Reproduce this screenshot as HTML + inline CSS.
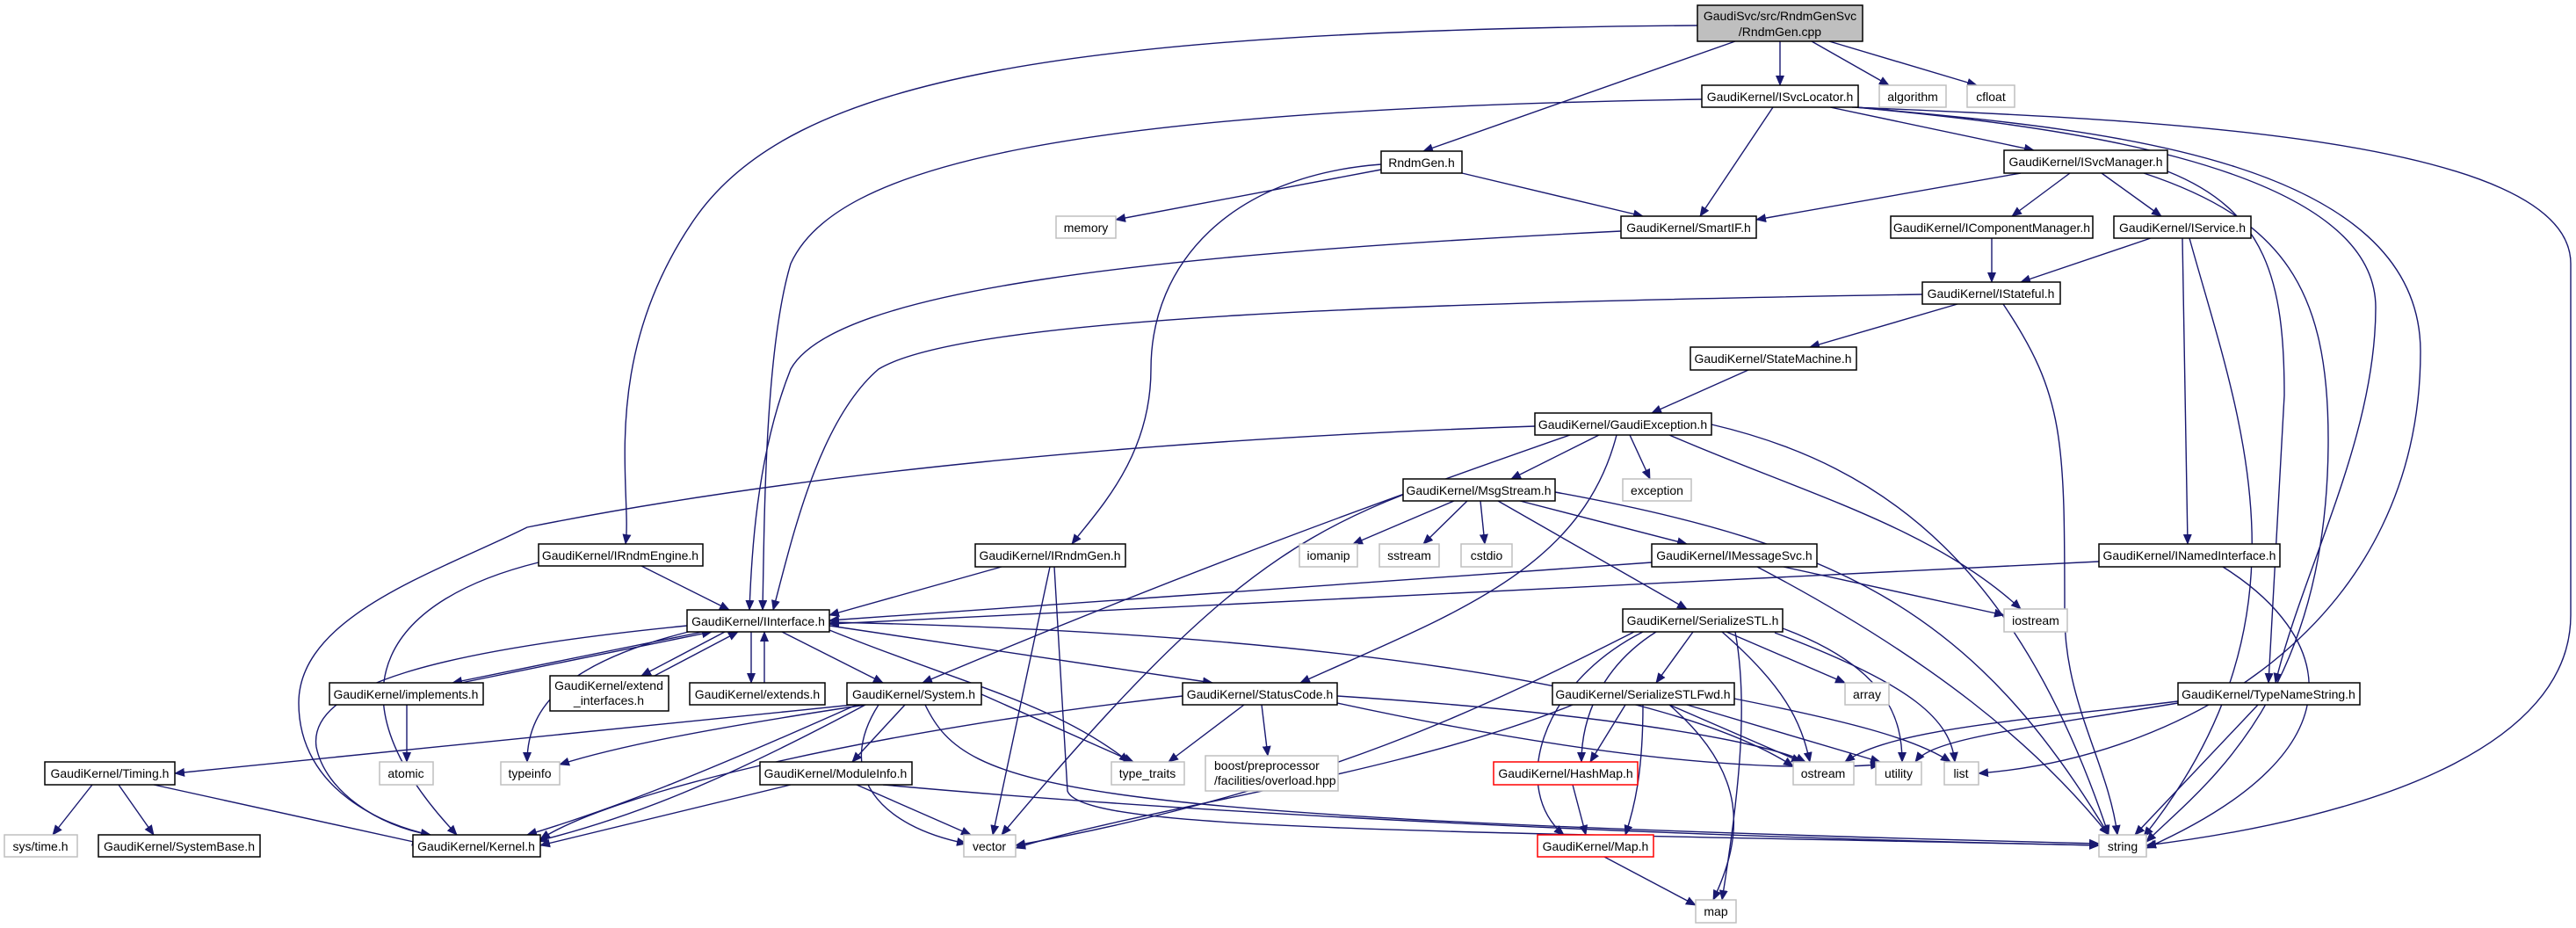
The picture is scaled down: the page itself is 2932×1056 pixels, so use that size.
<!DOCTYPE html>
<html><head><meta charset="utf-8"><style>
html,body{margin:0;padding:0;background:#fff;}
svg{display:block;}
text{font-family:"Liberation Sans",Arial,sans-serif;font-size:14px;fill:#000;}
.e{fill:none;stroke:#191970;stroke-width:1.4;marker-end:url(#a);}
.n{fill:#fff;stroke:#000;stroke-width:1.5;}
.g{fill:#fff;stroke:#bfbfbf;stroke-width:1.5;}
.r{fill:#fff;stroke:#ff0000;stroke-width:1.5;}
</style></head><body>
<svg width="2932" height="1056" viewBox="0 0 2932 1056" xmlns="http://www.w3.org/2000/svg">
<defs><marker id="a" markerWidth="12" markerHeight="10" refX="11" refY="5" orient="auto" markerUnits="userSpaceOnUse"><path d="M0,0 L12,5 L0,10 z" fill="#191970"/></marker></defs>
<g>
<path class="e" d="M2026 47 L2026 97"/>
<path class="e" d="M2062 47 L2150 97"/>
<path class="e" d="M2082 47 L2250 97"/>
<path class="e" d="M1975 47 L1620 172"/>
<path class="e" d="M1932 29 C1200 35, 900 90, 790 250 S720 560, 712 619"/>
<path class="e" d="M1937 113 C1200 125, 950 190, 900 300 C870 400, 870 600, 868 694"/>
<path class="e" d="M1845 263 C1300 290, 950 330, 900 420 C860 520, 855 640, 853 694"/>
<path class="e" d="M2188 335 C1600 345, 1100 360, 1000 420 C930 480, 900 620, 880 694"/>
<path class="e" d="M1572 193 L1270 250"/>
<path class="e" d="M1664 197 L1870 246"/>
<path class="e" d="M1572 187 C1400 200, 1310 300, 1310 420 C1310 520, 1250 580, 1220 619"/>
<path class="e" d="M2018 122 L1935 246"/>
<path class="e" d="M2083 122 L2315 171"/>
<path class="e" d="M2112 122 C2300 140, 2704 180, 2704 350 C2704 500, 2620 650, 2590 777"/>
<path class="e" d="M2114 122 C2350 145, 2755 170, 2755 400 C2755 700, 2500 860, 2252 880"/>
<path class="e" d="M2108 122 C2400 135, 2926 150, 2926 300 L2926 700 C2926 850, 2700 930, 2443 962"/>
<path class="e" d="M2300 197 L1999 250"/>
<path class="e" d="M2356 197 L2290 246"/>
<path class="e" d="M2392 197 L2460 246"/>
<path class="e" d="M2467 195 C2580 240, 2600 320, 2600 450 L2582 777"/>
<path class="e" d="M2440 197 C2600 250, 2650 330, 2650 500 C2650 800, 2500 900, 2443 958"/>
<path class="e" d="M2267 271 L2267 321"/>
<path class="e" d="M2448 271 L2300 321"/>
<path class="e" d="M2484 271 L2490 619"/>
<path class="e" d="M2492 271 C2550 480, 2640 700, 2440 952"/>
<path class="e" d="M2228 346 L2060 395"/>
<path class="e" d="M2280 346 C2350 450, 2350 500, 2350 700 C2350 800, 2400 870, 2410 950"/>
<path class="e" d="M1990 421 L1880 470"/>
<path class="e" d="M1820 495 L1720 545"/>
<path class="e" d="M1855 495 L1878 545"/>
<path class="e" d="M1747 485 C1300 500, 900 540, 600 600 C500 650, 340 700, 340 800 C340 900, 440 940, 490 950"/>
<path class="e" d="M1787 495 C1600 560, 1350 650, 1050 777"/>
<path class="e" d="M1840 495 C1800 650, 1650 700, 1480 777"/>
<path class="e" d="M1900 495 C2050 560, 2200 600, 2300 693"/>
<path class="e" d="M1948 483 C2150 530, 2300 650, 2400 950"/>
<path class="e" d="M1655 570 L1540 619"/>
<path class="e" d="M1670 570 L1620 619"/>
<path class="e" d="M1685 570 L1690 619"/>
<path class="e" d="M1730 570 L1920 619"/>
<path class="e" d="M1705 570 L1920 693"/>
<path class="e" d="M1597 563 C1450 620, 1350 700, 1140 950"/>
<path class="e" d="M1770 560 C2100 620, 2250 700, 2400 950"/>
<path class="e" d="M730 644 L830 694"/>
<path class="e" d="M613 640 C450 680, 360 780, 520 950"/>
<path class="e" d="M1140 645 L944 700"/>
<path class="e" d="M1195 645 L1130 950"/>
<path class="e" d="M1200 645 L1215 900 C1230 945, 1600 945, 2389 962"/>
<path class="e" d="M1880 640 L944 706"/>
<path class="e" d="M2030 645 L2281 700"/>
<path class="e" d="M2000 645 C2200 750, 2320 850, 2400 950"/>
<path class="e" d="M2389 639 L944 710"/>
<path class="e" d="M2530 645 C2650 720, 2700 850, 2443 965"/>
<path class="e" d="M800 719 L515 777"/>
<path class="e" d="M525 777 L810 719"/>
<path class="e" d="M825 719 L730 769"/>
<path class="e" d="M745 769 L840 719"/>
<path class="e" d="M855 719 L855 777"/>
<path class="e" d="M870 777 L870 719"/>
<path class="e" d="M890 719 L1005 777"/>
<path class="e" d="M944 712 L1380 777"/>
<path class="e" d="M800 715 C650 750, 600 800, 600 867"/>
<path class="e" d="M944 717 C1100 780, 1200 800, 1285 867"/>
<path class="e" d="M944 708 C1500 720, 1900 780, 2041 872"/>
<path class="e" d="M782 712 C500 740, 350 780, 360 850 C370 900, 430 940, 490 950"/>
<path class="e" d="M463 802 L463 867"/>
<path class="e" d="M990 800 C700 830, 400 860, 199 880"/>
<path class="e" d="M985 802 C800 830, 700 850, 637 870"/>
<path class="e" d="M975 802 C800 880, 700 920, 600 950"/>
<path class="e" d="M985 802 C820 890, 720 930, 612 957"/>
<path class="e" d="M1030 802 L970 867"/>
<path class="e" d="M1000 802 C950 880, 1000 940, 1100 960"/>
<path class="e" d="M1053 802 C1100 900, 1200 930, 2389 960"/>
<path class="e" d="M1117 790 L1290 867"/>
<path class="e" d="M1416 802 L1330 867"/>
<path class="e" d="M1436 802 L1443 860"/>
<path class="e" d="M1346 792 C1000 830, 700 900, 615 955"/>
<path class="e" d="M1522 792 C1800 810, 2000 840, 2055 867"/>
<path class="e" d="M1522 800 C1800 860, 2000 880, 2140 870"/>
<path class="e" d="M900 893 L615 962"/>
<path class="e" d="M975 893 L1105 950"/>
<path class="e" d="M1005 893 C1300 920, 1800 950, 2389 962"/>
<path class="e" d="M105 893 L60 950"/>
<path class="e" d="M135 893 L175 950"/>
<path class="e" d="M175 893 L480 960"/>
<path class="e" d="M1927 719 L1885 777"/>
<path class="e" d="M1885 719 C1820 760, 1800 820, 1800 867"/>
<path class="e" d="M1870 719 C1750 780, 1720 900, 1780 950"/>
<path class="e" d="M1860 719 C1700 800, 1500 900, 1156 962"/>
<path class="e" d="M1965 719 L2100 777"/>
<path class="e" d="M1960 719 C2030 780, 2050 820, 2060 867"/>
<path class="e" d="M2029 715 C2150 760, 2165 820, 2165 867"/>
<path class="e" d="M2020 720 C2180 780, 2220 820, 2225 867"/>
<path class="e" d="M1975 719 C1990 800, 1980 900, 1960 1024"/>
<path class="e" d="M1850 802 L1810 867"/>
<path class="e" d="M1870 802 C1870 880, 1860 920, 1850 950"/>
<path class="e" d="M1790 802 C1600 880, 1300 920, 1156 965"/>
<path class="e" d="M1900 802 L2050 867"/>
<path class="e" d="M1920 802 L2140 867"/>
<path class="e" d="M1974 795 C2100 820, 2180 840, 2220 867"/>
<path class="e" d="M1900 802 C1990 880, 1985 950, 1950 1024"/>
<path class="e" d="M1790 893 L1805 950"/>
<path class="e" d="M1826 975 L1930 1030"/>
<path class="e" d="M2479 798 C2300 820, 2150 830, 2100 867"/>
<path class="e" d="M2479 800 C2300 830, 2200 840, 2180 867"/>
<path class="e" d="M2570 802 L2430 950"/>
</g>
<g>
<rect x="1932" y="6" width="188" height="41" fill="#bfbfbf" stroke="#000" stroke-width="1.5"/>
<text x="2026" y="23" text-anchor="middle">GaudiSvc/src/RndmGenSvc</text>
<text x="2026" y="41" text-anchor="middle">/RndmGen.cpp</text>

<rect class="n" x="1937" y="97" width="178" height="25"/><text x="2026" y="115" text-anchor="middle">GaudiKernel/ISvcLocator.h</text>
<rect class="g" x="2139" y="97" width="76" height="25"/><text x="2177" y="115" text-anchor="middle">algorithm</text>
<rect class="g" x="2239" y="97" width="54" height="25"/><text x="2266" y="115" text-anchor="middle">cfloat</text>
<rect class="n" x="1572" y="172" width="92" height="25"/><text x="1618" y="190" text-anchor="middle">RndmGen.h</text>
<rect class="g" x="1202" y="246" width="68" height="25"/><text x="1236" y="264" text-anchor="middle">memory</text>
<rect class="n" x="2281" y="171" width="186" height="26"/><text x="2374" y="189" text-anchor="middle">GaudiKernel/ISvcManager.h</text>
<rect class="n" x="1845" y="246" width="154" height="25"/><text x="1922" y="264" text-anchor="middle">GaudiKernel/SmartIF.h</text>
<rect class="n" x="2152" y="246" width="230" height="25"/><text x="2267" y="264" text-anchor="middle">GaudiKernel/IComponentManager.h</text>
<rect class="n" x="2406" y="246" width="156" height="25"/><text x="2484" y="264" text-anchor="middle">GaudiKernel/IService.h</text>
<rect class="n" x="2188" y="321" width="157" height="25"/><text x="2266" y="339" text-anchor="middle">GaudiKernel/IStateful.h</text>
<rect class="n" x="1924" y="395" width="189" height="26"/><text x="2018" y="413" text-anchor="middle">GaudiKernel/StateMachine.h</text>
<rect class="n" x="1747" y="470" width="201" height="25"/><text x="1847" y="488" text-anchor="middle">GaudiKernel/GaudiException.h</text>
<rect class="n" x="1597" y="545" width="173" height="25"/><text x="1683" y="563" text-anchor="middle">GaudiKernel/MsgStream.h</text>
<rect class="g" x="1847" y="545" width="78" height="25"/><text x="1886" y="563" text-anchor="middle">exception</text>
<rect class="n" x="613" y="619" width="187" height="25"/><text x="706" y="637" text-anchor="middle">GaudiKernel/IRndmEngine.h</text>
<rect class="n" x="1110" y="619" width="171" height="26"/><text x="1195" y="637" text-anchor="middle">GaudiKernel/IRndmGen.h</text>
<rect class="g" x="1479" y="619" width="66" height="26"/><text x="1512" y="637" text-anchor="middle">iomanip</text>
<rect class="g" x="1570" y="619" width="68" height="26"/><text x="1604" y="637" text-anchor="middle">sstream</text>
<rect class="g" x="1663" y="619" width="58" height="26"/><text x="1692" y="637" text-anchor="middle">cstdio</text>
<rect class="n" x="1880" y="619" width="188" height="26"/><text x="1974" y="637" text-anchor="middle">GaudiKernel/IMessageSvc.h</text>
<rect class="n" x="2389" y="619" width="206" height="26"/><text x="2492" y="637" text-anchor="middle">GaudiKernel/INamedInterface.h</text>
<rect class="g" x="2281" y="693" width="72" height="26"/><text x="2317" y="711" text-anchor="middle">iostream</text>
<rect class="n" x="782" y="694" width="162" height="25"/><text x="863" y="712" text-anchor="middle">GaudiKernel/IInterface.h</text>
<rect class="n" x="1847" y="693" width="182" height="26"/><text x="1938" y="711" text-anchor="middle">GaudiKernel/SerializeSTL.h</text>
<rect class="n" x="375" y="777" width="175" height="25"/><text x="462" y="795" text-anchor="middle">GaudiKernel/implements.h</text>
<rect class="n" x="626" y="769" width="135" height="40"/><text x="693" y="785" text-anchor="middle">GaudiKernel/extend</text><text x="693" y="802" text-anchor="middle">_interfaces.h</text>
<rect class="n" x="785" y="777" width="154" height="25"/><text x="862" y="795" text-anchor="middle">GaudiKernel/extends.h</text>
<rect class="n" x="964" y="777" width="153" height="25"/><text x="1040" y="795" text-anchor="middle">GaudiKernel/System.h</text>
<rect class="n" x="1346" y="777" width="176" height="25"/><text x="1434" y="795" text-anchor="middle">GaudiKernel/StatusCode.h</text>
<rect class="n" x="1767" y="777" width="207" height="25"/><text x="1870" y="795" text-anchor="middle">GaudiKernel/SerializeSTLFwd.h</text>
<rect class="g" x="2100" y="777" width="50" height="25"/><text x="2125" y="795" text-anchor="middle">array</text>
<rect class="n" x="2479" y="777" width="207" height="25"/><text x="2582" y="795" text-anchor="middle">GaudiKernel/TypeNameString.h</text>
<rect class="n" x="51" y="867" width="148" height="26"/><text x="125" y="885" text-anchor="middle">GaudiKernel/Timing.h</text>
<rect class="g" x="432" y="867" width="61" height="26"/><text x="462" y="885" text-anchor="middle">atomic</text>
<rect class="g" x="570" y="867" width="67" height="26"/><text x="603" y="885" text-anchor="middle">typeinfo</text>
<rect class="n" x="865" y="867" width="173" height="26"/><text x="951" y="885" text-anchor="middle">GaudiKernel/ModuleInfo.h</text>
<rect class="g" x="1265" y="867" width="83" height="26"/><text x="1306" y="885" text-anchor="middle">type_traits</text>
<rect class="g" x="1372" y="860" width="151" height="40"/><text x="1382" y="876">boost/preprocessor</text><text x="1382" y="893">/facilities/overload.hpp</text>
<rect class="r" x="1700" y="867" width="164" height="26"/><text x="1782" y="885" text-anchor="middle">GaudiKernel/HashMap.h</text>
<rect class="g" x="2041" y="867" width="69" height="26"/><text x="2075" y="885" text-anchor="middle">ostream</text>
<rect class="g" x="2135" y="867" width="52" height="26"/><text x="2161" y="885" text-anchor="middle">utility</text>
<rect class="g" x="2213" y="867" width="39" height="26"/><text x="2232" y="885" text-anchor="middle">list</text>
<rect class="g" x="5" y="950" width="83" height="25"/><text x="46" y="968" text-anchor="middle">sys/time.h</text>
<rect class="n" x="112" y="950" width="184" height="25"/><text x="204" y="968" text-anchor="middle">GaudiKernel/SystemBase.h</text>
<rect class="n" x="470" y="950" width="145" height="25"/><text x="542" y="968" text-anchor="middle">GaudiKernel/Kernel.h</text>
<rect class="g" x="1097" y="950" width="59" height="25"/><text x="1126" y="968" text-anchor="middle">vector</text>
<rect class="r" x="1750" y="950" width="132" height="25"/><text x="1816" y="968" text-anchor="middle">GaudiKernel/Map.h</text>
<rect class="g" x="2389" y="950" width="54" height="25"/><text x="2416" y="968" text-anchor="middle">string</text>
<rect class="g" x="1930" y="1024" width="46" height="26"/><text x="1953" y="1042" text-anchor="middle">map</text>
</g>
</svg>
</body></html>
